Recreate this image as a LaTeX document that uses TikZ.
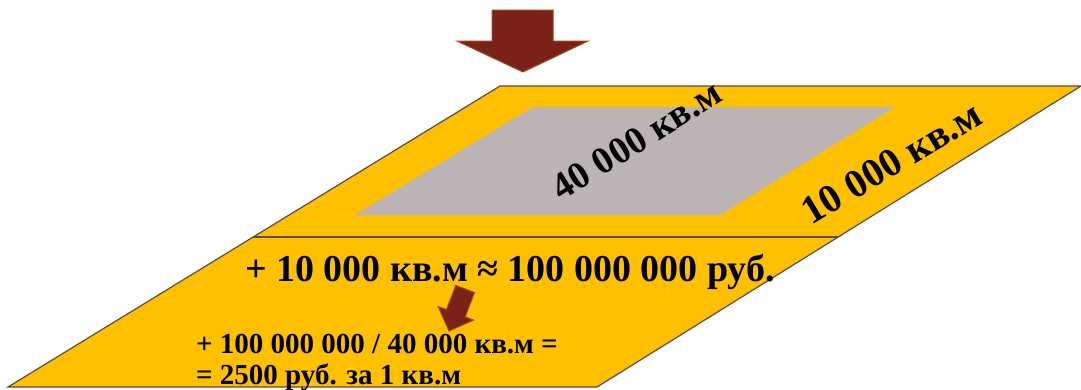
\documentclass[tikz,border=0pt]{standalone}
\usepackage{fontspec}
\setmainfont{Liberation Serif}
\definecolor{plate}{HTML}{FFC000}
\definecolor{plot}{HTML}{BCB4B4}
\definecolor{edge}{HTML}{5E4B45}
\definecolor{arrowfill}{HTML}{78221A}
\definecolor{arrowedge}{HTML}{A8421A}
\tikzset{
  plateshape/.style={fill=plate, draw=edge, line width=1.2pt, line join=miter},
  plotshape/.style={fill=plot, draw=none},
  blockarrow/.style={fill=arrowfill, draw=arrowedge, line width=1pt, line join=miter},
  lbl/.style={font=\bfseries, text=black, inner sep=0pt}
}
\begin{document}
\begin{tikzpicture}[x=1pt,y=-1pt]
\useasboundingbox (0,0) rectangle (1081,389);
% big plate
\draw[plateshape] (8,387) -- (500,86) -- (1081,86) -- (597,387) -- cycle;
% divider
\coordinate (dl) at (253,237);
\coordinate (dr) at (838,237);
\draw[edge, line width=1.2pt] (dl) -- (dr);
% grey plot
\fill[plotshape] (355,215) -- (533,107) -- (895,107) -- (720,215) -- cycle;
% top arrow
\draw[blockarrow] (492,10) -- (553,10) -- (553,41) -- (588,41) -- (523,72) -- (457,41) -- (492,41) -- cycle;
% small arrow
\begin{scope}[shift={(449,331)}, rotate=-21]
\draw[blockarrow] (-10,-45) -- (10,-45) -- (10,-19) -- (19,-19) -- (0,0) -- (-19,-19) -- (-10,-19) -- cycle;
\end{scope}
% labels
\node[lbl, font=\fontsize{38}{40}\selectfont\bfseries, anchor=base, rotate=32] (t40) at (643,151) {40 000 кв.м};
\node[lbl, font=\fontsize{40}{42}\selectfont\bfseries, anchor=base, rotate=31] (t10) at (898,174) {10 000 кв.м};
\node[lbl, font=\fontsize{38}{40}\selectfont\bfseries, anchor=base] (main) at (510,281) {+ 10 000 кв.м ≈ 100 000 000 руб.};
\node[lbl, font=\fontsize{29}{30}\selectfont\bfseries, anchor=base west] (l1) at (196,353) {+ 100 000 000 / 40 000 кв.м =};
\node[lbl, font=\fontsize{29}{30}\selectfont\bfseries, anchor=base west] (l2) at (196,384) {= 2500 руб. за 1 кв.м};
\end{tikzpicture}
\end{document}
